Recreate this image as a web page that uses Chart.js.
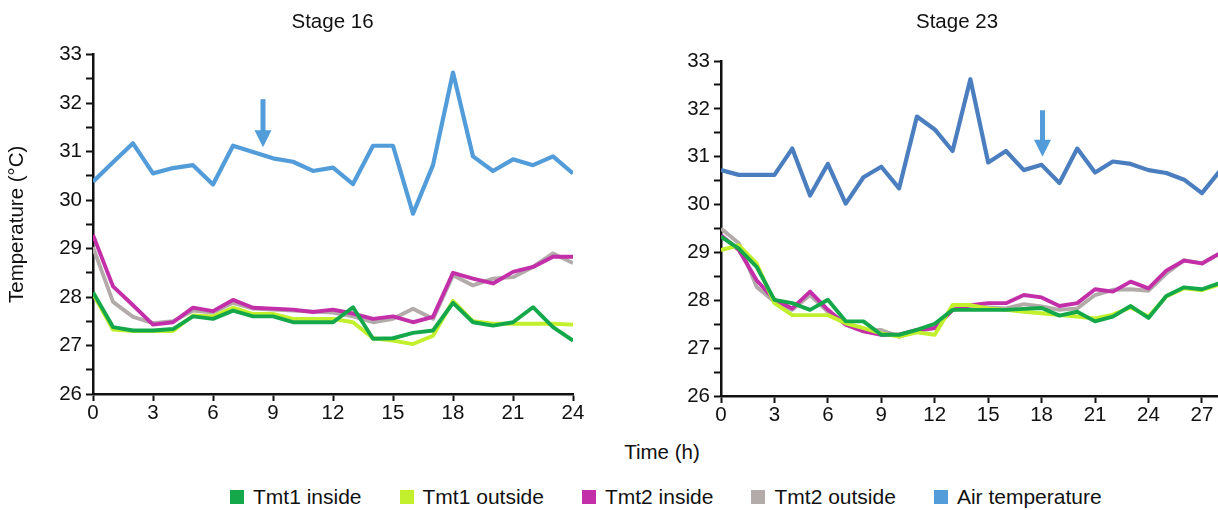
<!DOCTYPE html>
<html>
<head>
<meta charset="utf-8">
<script src="https://cdn.jsdelivr.net/npm/chart.js@4.4.0/dist/chart.umd.min.js"></script>
<style>
html,body{margin:0;padding:0;width:1218px;height:510px;overflow:hidden;background:#fff;font-family:"Liberation Sans",Arial,sans-serif;color:#111;}
#w1{position:absolute;left:0;top:0;width:665px;height:440px;}
#w2{position:absolute;left:672px;top:0;width:570px;height:440px;}
#xtitle{position:absolute;left:562px;top:440px;width:200px;text-align:center;font-size:20.5px;line-height:24px;}
#legend{position:absolute;left:230px;top:485px;height:24px;display:flex;align-items:center;gap:38px;font-size:21px;line-height:24px;white-space:nowrap;}
#legend .it{display:flex;align-items:center;}
#legend .sw{width:14px;height:14px;margin-right:9px;}
</style>
</head>
<body>
<div id="w1"><canvas id="c1" width="665" height="440"></canvas></div>
<div id="w2"><canvas id="c2" width="570" height="440"></canvas></div>
<div id="xtitle">Time (h)</div>
<div id="legend"></div>
<script>
// ---- data ----
const seriesNames = ["Tmt1 inside", "Tmt1 outside", "Tmt2 inside", "Tmt2 outside", "Air temperature"];
const seriesColors = ["#14a84b", "#c2f02c", "#c22fa8", "#b3aaaa", "#519cd9"];
const airColor23 = "#4a7ebf";
const yTicks = [26, 27, 28, 29, 30, 31, 32, 33];

const hours16 = [0,1,2,3,4,5,6,7,8,9,10,11,12,13,14,15,16,17,18,19,20,21,22,23,24];
const tmt1In16  = [28.10,27.38,27.31,27.31,27.34,27.60,27.55,27.72,27.60,27.60,27.48,27.48,27.48,27.79,27.14,27.15,27.26,27.31,27.88,27.48,27.41,27.48,27.79,27.38,27.10];
const tmt1Out16 = [28.07,27.33,27.30,27.30,27.30,27.62,27.60,27.78,27.65,27.65,27.55,27.55,27.55,27.48,27.15,27.10,27.03,27.20,27.92,27.50,27.45,27.45,27.45,27.45,27.43];
const tmt2In16  = [29.28,28.22,27.83,27.43,27.48,27.78,27.71,27.94,27.78,27.76,27.74,27.69,27.74,27.66,27.55,27.60,27.48,27.59,28.50,28.38,28.28,28.52,28.62,28.83,28.83];
const tmt2Out16 = [29.03,27.90,27.59,27.46,27.50,27.72,27.68,27.88,27.76,27.74,27.72,27.70,27.68,27.60,27.48,27.55,27.76,27.55,28.45,28.24,28.38,28.41,28.62,28.90,28.70];
const air16     = [30.38,30.78,31.17,30.55,30.66,30.72,30.32,31.12,30.99,30.86,30.79,30.60,30.67,30.33,31.12,31.12,29.72,30.72,32.63,30.90,30.60,30.84,30.72,30.90,30.55];

const hours23 = [0,1,2,3,4,5,6,7,8,9,10,11,12,13,14,15,16,17,18,19,20,21,22,23,24,25,26,27,28];
const tmt1In23  = [29.33,29.08,28.70,28.01,27.94,27.80,28.01,27.56,27.56,27.28,27.28,27.38,27.51,27.80,27.80,27.80,27.80,27.82,27.84,27.68,27.76,27.56,27.66,27.88,27.63,28.09,28.27,28.23,28.36];
const tmt1Out23 = [29.05,29.15,28.77,27.94,27.69,27.69,27.69,27.52,27.42,27.31,27.24,27.33,27.28,27.90,27.90,27.83,27.80,27.76,27.73,27.69,27.66,27.62,27.70,27.85,27.66,28.08,28.25,28.21,28.33];
const tmt2In23  = [29.36,29.05,28.42,28.01,27.83,28.18,27.80,27.49,27.35,27.28,27.28,27.38,27.42,27.80,27.90,27.94,27.94,28.11,28.06,27.88,27.94,28.23,28.18,28.39,28.25,28.62,28.83,28.77,28.98];
const tmt2Out23 = [29.50,29.19,28.28,27.97,27.80,28.11,27.76,27.52,27.37,27.38,27.24,27.35,27.42,27.80,27.87,27.85,27.83,27.92,27.87,27.80,27.83,28.11,28.22,28.23,28.20,28.56,28.84,28.77,28.98];
const air23     = [30.72,30.62,30.62,30.62,31.17,30.19,30.85,30.02,30.57,30.79,30.34,31.84,31.57,31.12,32.62,30.88,31.12,30.72,30.83,30.45,31.17,30.67,30.90,30.85,30.72,30.66,30.52,30.24,30.70];

// arrows: [hour, top value, tip value]
const arrow16 = [8.5, 32.08, 31.09];
const arrow23 = [18.05, 31.97, 31.00];

// ---- rendering ----
Chart.defaults.font.family = '"Liberation Sans", Arial, sans-serif';
Chart.defaults.color = '#111';

function pts(xs, ys){ return xs.map((x,i)=>({x:x, y:ys[i]})); }

const arrowPlugin = {
  id: 'arrow',
  afterDatasetsDraw(chart, args, opts){
    const a = opts.data; if(!a) return;
    const xs = chart.scales.x, ys = chart.scales.y, ctx = chart.ctx;
    const px = xs.getPixelForValue(a[0]);
    const y0 = ys.getPixelForValue(a[1]);
    const y1 = ys.getPixelForValue(a[2]);
    const head = 17, hw = 8.5;
    ctx.save();
    ctx.strokeStyle = opts.color; ctx.fillStyle = opts.color;
    ctx.lineWidth = 5;
    ctx.beginPath(); ctx.moveTo(px, y0); ctx.lineTo(px, y1 - head + 1); ctx.stroke();
    ctx.beginPath(); ctx.moveTo(px - hw, y1 - head); ctx.lineTo(px + hw, y1 - head); ctx.lineTo(px, y1); ctx.closePath(); ctx.fill();
    ctx.restore();
  }
};

function makeChart(id, title, hours, series, airCol, xMax, xHeight, titleBottom, rightGap, yWidth, arrow){
  const datasets = series.map((s,i)=>({
    label: seriesNames[i],
    data: pts(hours, s),
    borderColor: i === 4 ? airCol : seriesColors[i],
    backgroundColor: i === 4 ? airCol : seriesColors[i],
    borderWidth: i === 4 ? 4.2 : 3.9,
    pointRadius: 0,
    tension: 0,
    borderJoinStyle: 'round',
    fill: false
  }));
  const axisCommon = {
    grid: {display:true, drawOnChartArea:false, drawTicks:true, tickLength:7, tickWidth:2, tickColor:'#111', color:'#111'},
    border: {display:true, color:'#111', width:2.5}
  };
  const scales = {
    x: Object.assign({}, axisCommon, {
      type: 'linear', min: 0, max: xMax,
      ticks: {stepSize:3, includeBounds:false, autoSkip:false, maxRotation:0, padding:0, color:'#111', font:{size:20.5}},
      afterFit: s => { s.height = xHeight; }
    }),
    y: Object.assign({}, axisCommon, {
      type: 'linear', position: 'left', min: yTicks[0], max: yTicks[yTicks.length-1],
      ticks: {stepSize:0.5, autoSkip:false, padding:4, color:'#111', font:{size:20.5},
              callback: v => yTicks.includes(v) ? String(v) : ''},
      title: id === 'c1' ? {display:true, text:'Temperature (°C)', color:'#111', font:{size:20.5}, padding:{top:5, bottom:0}} : {display:false},
      afterFit: s => { s.width = yWidth; }
    })
  };
  if (rightGap > 0) {
    // empty spacer axis on the right so the title stays centred on the canvas
    scales.yGap = {
      type: 'linear', position: 'right', min: 0, max: 1, display: true,
      grid: {display:false}, border: {display:false},
      ticks: {display:false},
      afterFit: s => { s.width = rightGap; }
    };
  }
  return new Chart(document.getElementById(id), {
    type: 'line',
    data: {datasets},
    options: {
      responsive: false,
      animation: false,
      devicePixelRatio: 1,
      layout: {padding: 0},
      plugins: {
        legend: {display:false},
        tooltip: {enabled:false},
        title: {display:true, text:title, color:'#111', font:{size:20.5, weight:'normal'}, padding:{top:10, bottom:titleBottom}},
        arrow: {data: arrow, color: seriesColors[4]}
      },
      scales: scales
    },
    plugins: [arrowPlugin]
  });
}

makeChart('c1', 'Stage 16', hours16, [tmt1In16, tmt1Out16, tmt2In16, tmt2Out16, air16], seriesColors[4], 24, 46, 20, 92, 93, arrow16);
makeChart('c2', 'Stage 23', hours23, [tmt1In23, tmt1Out23, tmt2In23, tmt2Out23, air23], airColor23, 29.25, 44, 26.4, 0, 49, arrow23);

// legend
const lg = document.getElementById('legend');
seriesNames.forEach((n,i)=>{
  const it = document.createElement('div'); it.className = 'it';
  const sw = document.createElement('span'); sw.className = 'sw'; sw.style.background = seriesColors[i];
  const tx = document.createElement('span'); tx.textContent = n;
  it.appendChild(sw); it.appendChild(tx); lg.appendChild(it);
});
</script>
</body>
</html>
